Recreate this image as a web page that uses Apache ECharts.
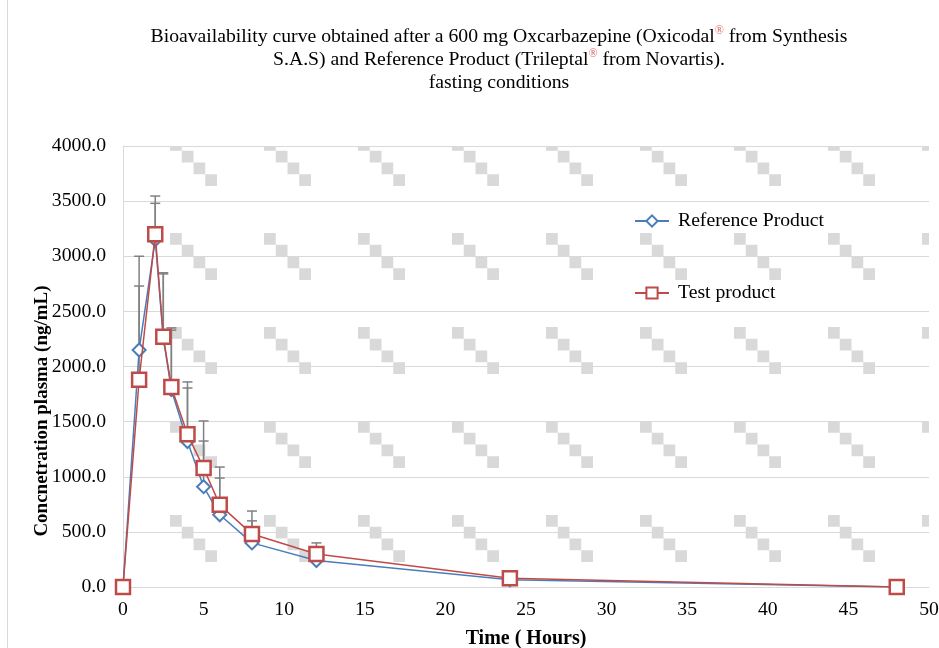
<!DOCTYPE html>
<html>
<head>
<meta charset="utf-8">
<script src="https://cdn.jsdelivr.net/npm/echarts@6/dist/echarts.min.js"></script>
<style>
  html, body { margin: 0; padding: 0; background: #fff; }
  #main { width: 939px; height: 648px; }
</style>
</head>
<body>
<div id="main"></div>
<script>
// sampling times (hours)
const times = [0, 1, 2, 2.5, 3, 4, 5, 6, 8, 12, 24, 48];
// mean plasma concentration (ng/mL)
const refValues = [0, 2150, 3150, 2260, 1790, 1320, 910, 655, 400, 240, 65, 0];
const testValues = [0, 1880, 3200, 2270, 1815, 1385, 1080, 745, 480, 300, 80, 0];
// upper standard deviation shown as error bars
const refSd = [0, 850, 330, 580, 540, 485, 414, 333, 200, 105, 0, 0];
const testSd = [0, 850, 346, 580, 535, 475, 426, 343, 209, 100, 0, 0];

const serif = '"Liberation Serif", "Times New Roman", serif';
const blue = '#4A7EBB';
const red = '#BE4B48';
const fs = 19.7;

// excel-like staircase pattern for the plot area
const makePattern = () => {
  const cell = 11.75, period = 94, ox = 76, oy = 45;
  const c = document.createElement('canvas');
  c.width = period;
  c.height = period;
  const ctx = c.getContext('2d');
  ctx.fillStyle = '#d9d9d9';
  for (let k = 0; k < 4; k++) {
    for (const dx of [0, -period]) {
      for (const dy of [0, -period]) {
        ctx.fillRect(ox + k * cell + dx, oy + k * cell + dy, cell, cell);
      }
    }
  }
  return c;
};

const errorBars = (values, sd, name) => ({
  type: 'custom',
  name: name,
  z: 1,
  silent: true,
  data: times.map((t, i) => [t, values[i], sd[i]]),
  renderItem: (params, api) => {
    const x = api.value(0), v = api.value(1), s = api.value(2);
    if (!s) return null;
    const p0 = api.coord([x, v]);
    const p1 = api.coord([x, v + s]);
    const style = { stroke: '#808080', lineWidth: 1.5 };
    return {
      type: 'group',
      children: [
        { type: 'line', shape: { x1: p0[0], y1: p0[1], x2: p1[0], y2: p1[1] }, style },
        { type: 'line', shape: { x1: p1[0] - 5, y1: p1[1], x2: p1[0] + 5, y2: p1[1] }, style }
      ]
    };
  }
});

const chart = echarts.init(document.getElementById('main'));
const option = {
  animation: false,
  backgroundColor: '#fff',
  title: {
    text: 'Bioavailability curve obtained after a 600 mg Oxcarbazepine (Oxicodal{reg|®} from Synthesis\nS.A.S) and Reference Product (Trileptal{reg|®} from Novartis).\nfasting conditions',
    left: 499,
    top: 25,
    padding: 0,
    textAlign: 'center',
    textStyle: {
      fontFamily: serif,
      fontSize: fs,
      fontWeight: 'normal',
      color: '#000',
      lineHeight: 23,
      rich: {
        reg: { fontFamily: serif, fontSize: 12, color: '#E06666', verticalAlign: 'top' }
      }
    }
  },
  legend: {
    orient: 'vertical',
    left: 634,
    top: 211,
    padding: 0,
    itemWidth: 34,
    itemHeight: 14,
    itemGap: 52,
    data: ['Reference Product', 'Test product'],
    textStyle: { fontFamily: serif, fontSize: fs, color: '#000', lineHeight: 20, padding: [0, 0, 0, 4] }
  },
  grid: {
    show: true,
    left: 123,
    right: 10,
    top: 146,
    bottom: 61,
    outerBoundsMode: 'none',
    containLabel: false,
    borderWidth: 0,
    backgroundColor: { image: makePattern(), repeat: 'repeat' }
  },
  graphic: [
    {
      type: 'rect',
      shape: { x: 7.5, y: -2, width: 1000, height: 700 },
      style: { fill: 'none', stroke: '#d9d9d9', lineWidth: 1 },
      silent: true
    },
    {
      type: 'text',
      x: 42,
      y: 411,
      rotation: Math.PI / 2,
      style: {
        text: 'Concnetration plasma (ng/mL)',
        font: 'bold 19px ' + serif,
        fill: '#000',
        textAlign: 'center',
        textVerticalAlign: 'middle'
      }
    }
  ],
  xAxis: {
    type: 'value',
    min: 0,
    max: 50,
    interval: 5,
    name: 'Time ( Hours)',
    nameLocation: 'middle',
    nameGap: 42,
    nameTextStyle: { fontFamily: serif, fontSize: 20, fontWeight: 'bold', color: '#000' },
    axisLine: { show: true, lineStyle: { color: '#d9d9d9', width: 1 } },
    axisTick: { show: false },
    splitLine: { show: false },
    axisLabel: { fontFamily: serif, fontSize: fs, color: '#000', margin: 13 }
  },
  yAxis: {
    type: 'value',
    min: 0,
    max: 4000,
    interval: 500,
    axisLine: { show: true, lineStyle: { color: '#d9d9d9', width: 1 } },
    axisTick: { show: false },
    splitLine: { show: true, lineStyle: { color: '#d9d9d9', width: 1 } },
    axisLabel: {
      fontFamily: serif,
      fontSize: fs,
      color: '#000',
      margin: 17,
      formatter: v => v.toFixed(1)
    }
  },
  series: [
    errorBars(refValues, refSd, 'refErr'),
    errorBars(testValues, testSd, 'testErr'),
    {
      name: 'Reference Product',
      type: 'line',
      data: times.map((t, i) => [t, refValues[i]]),
      symbol: 'diamond',
      symbolSize: 13,
      lineStyle: { color: blue, width: 1.5 },
      itemStyle: { color: '#fff', borderColor: blue, borderWidth: 2 },
      z: 3
    },
    {
      name: 'Test product',
      type: 'line',
      data: times.map((t, i) => [t, testValues[i]]),
      symbol: 'rect',
      symbolSize: 14,
      lineStyle: { color: red, width: 1.5 },
      itemStyle: { color: '#fff', borderColor: red, borderWidth: 2.5 },
      z: 4
    }
  ]
};
chart.setOption(option);
</script>
</body>
</html>
